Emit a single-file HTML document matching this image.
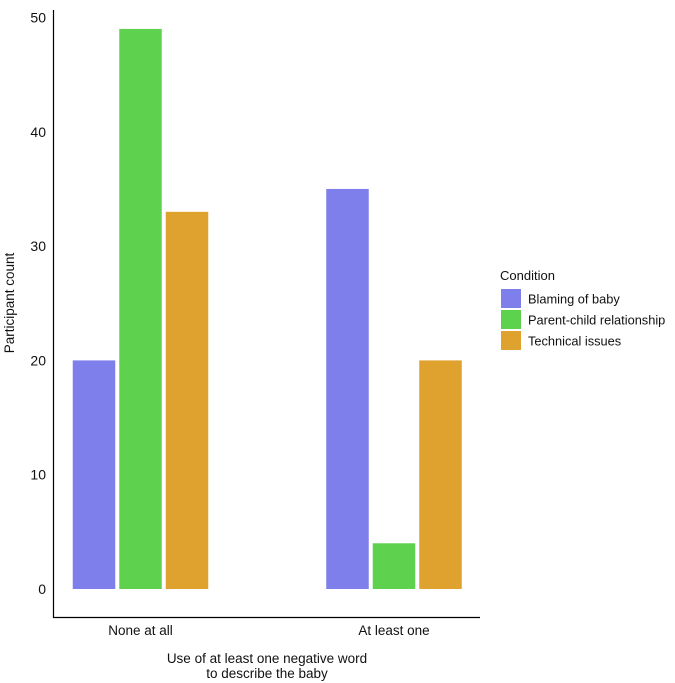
<!DOCTYPE html>
<html><head><meta charset="utf-8"><style>
body{margin:0;background:#fff;}
svg{display:block;font-family:"Liberation Sans",Arial,sans-serif;}
</style></head><body>
<svg id="chart" width="675" height="683"></svg>
<script>
const categories = ["None at all", "At least one"];
const seriesNames = ["Blaming of baby", "Parent-child relationship", "Technical issues"];
const blaming = [20, 35];
const parentChild = [49, 4];
const technical = [33, 20];
const yTicks = [0, 10, 20, 30, 40, 50];
const colors = ["#7f7fec", "#5ed24f", "#e0a22e"];
const series = [blaming, parentChild, technical];

const NS = "http://www.w3.org/2000/svg";
const svg = document.getElementById("chart");
function mk(tag, attrs, parent) {
  const e = document.createElementNS(NS, tag);
  for (const k in attrs) e.setAttribute(k, attrs[k]);
  (parent || svg).appendChild(e);
  return e;
}
const y0 = 589, pxPerUnit = 11.43;
function yScale(v) { return y0 - v * pxPerUnit; }
const groupCenters = [140.5, 394];
const barW = 42.5, step = 46.5;
function xScale(ci, si) { return groupCenters[ci] + (si - 1) * step - barW / 2; }

series.forEach((vals, si) => {
  vals.forEach((v, ci) => {
    const r = mk("rect", {x: xScale(ci, si), y: yScale(v), width: barW, height: y0 - yScale(v), fill: colors[si]});
    
    
  });
});
const ax = mk("path", {d: "M53.5 10 V617.5 H480", stroke: "#000", "stroke-width": 1.2, fill: "none"});


yTicks.forEach(t => {
  const tx = mk("text", {x: 46, y: yScale(t) + 5, "text-anchor": "end", "font-size": 14, fill: "#111"});
  tx.textContent = t;
  
  
});
categories.forEach((c, ci) => {
  const tx = mk("text", {x: groupCenters[ci], y: 635, "text-anchor": "middle", "font-size": 13.5, fill: "#111"});
  tx.textContent = c;
  
  
});
const xt1 = mk("text", {x: 267, y: 663, "text-anchor": "middle", "font-size": 13.5, fill: "#111"});
xt1.textContent = "Use of at least one negative word";


const xt2 = mk("text", {x: 267, y: 678, "text-anchor": "middle", "font-size": 13.5, fill: "#111"});
xt2.textContent = "to describe the baby";


const yt = mk("text", {x: 0, y: 0, transform: "translate(14,303) rotate(-90)", "text-anchor": "middle", "font-size": 13.5, fill: "#111"});
yt.textContent = "Participant count";


const lt = mk("text", {x: 500, y: 280, "font-size": 13, fill: "#111"});
lt.textContent = "Condition";


seriesNames.forEach((n, i) => {
  const ky = 289 + i * 21;
  const k = mk("rect", {x: 501, y: ky, width: 20, height: 19, fill: colors[i]});
  
  
  const t = mk("text", {x: 528, y: ky + 14.5, "font-size": 12.8, fill: "#111"});
  t.textContent = n;
  
  
});
</script>
</body></html>
